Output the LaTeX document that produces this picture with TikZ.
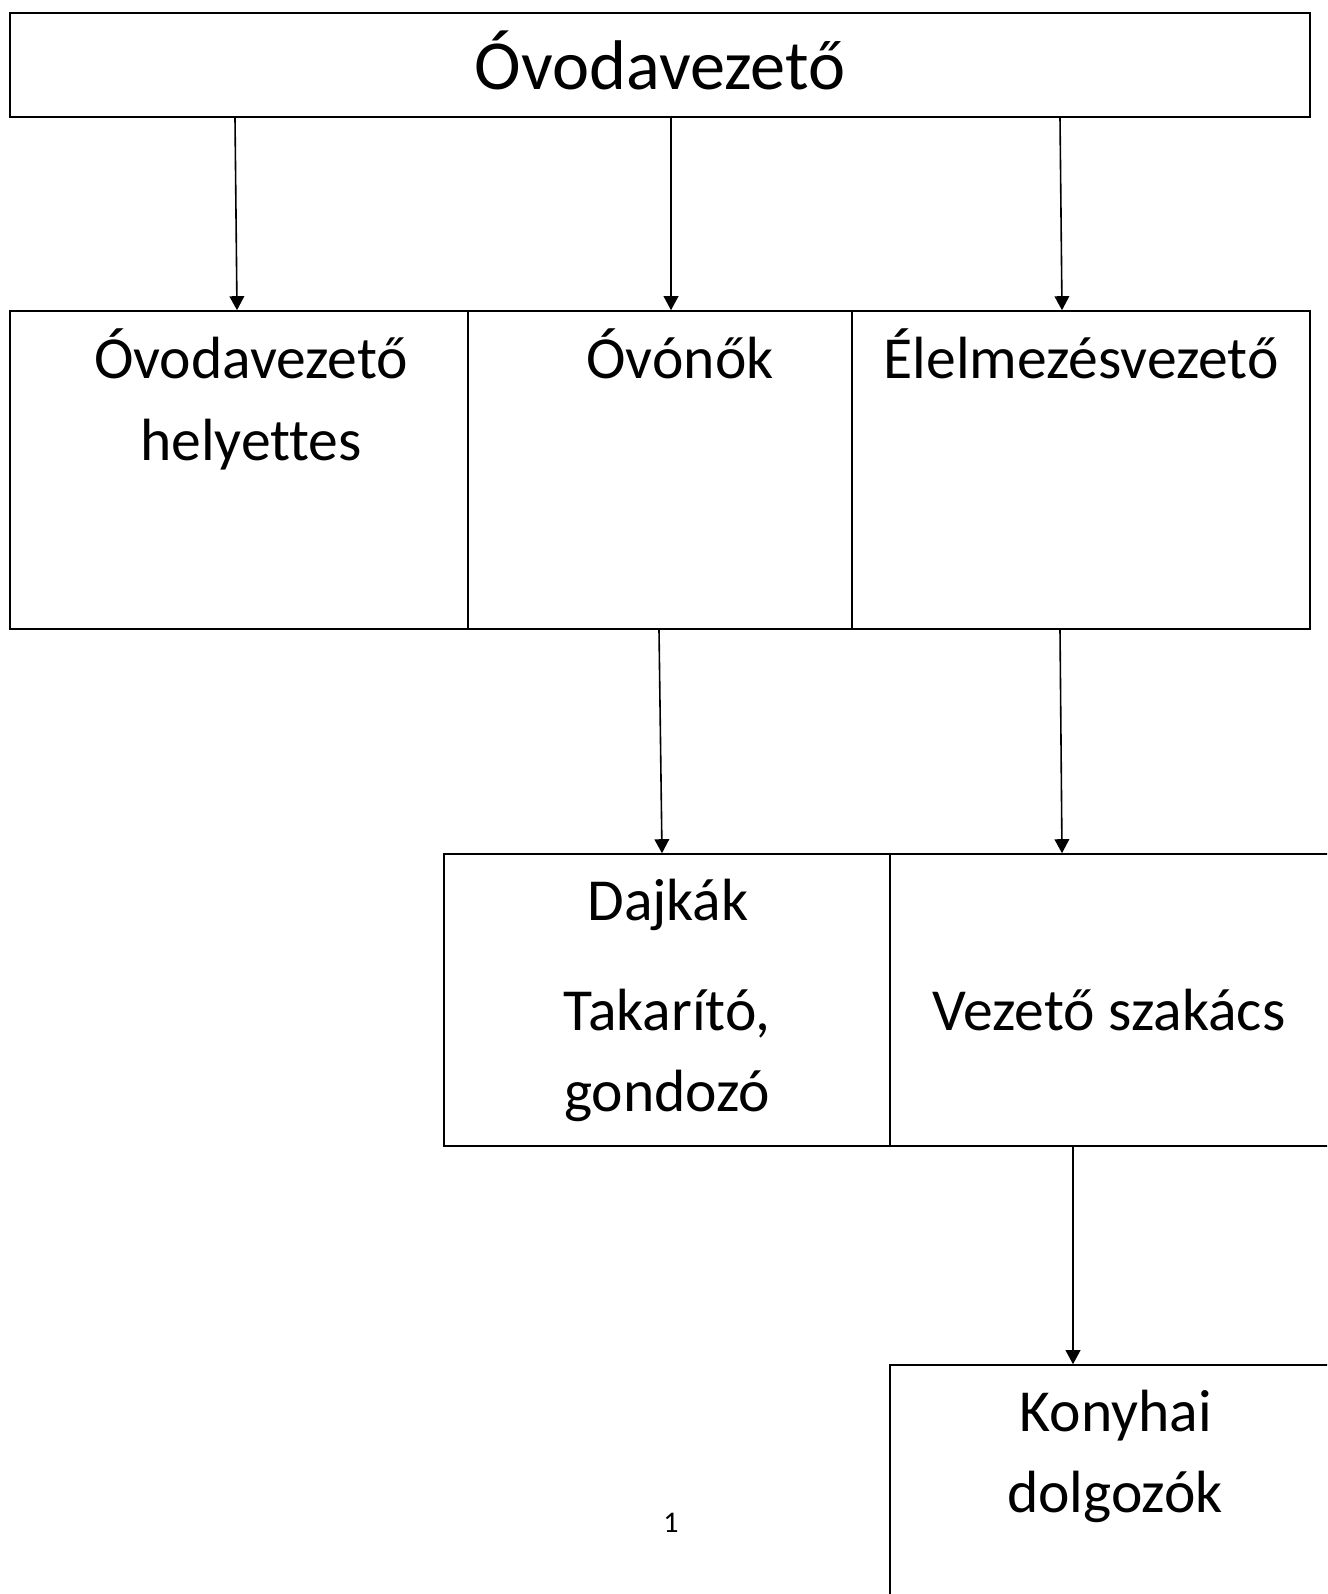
\documentclass[tikz,border=0pt]{standalone}
\usepackage{fontspec}
\setmainfont{Carlito}[Ligatures=NoCommon]
\usetikzlibrary{arrows.meta,fit}
\begin{document}
\begin{tikzpicture}[x=0.75pt,y=-0.75pt,
  box/.style={draw=black,line width=1.2pt,inner sep=0pt,rectangle},
  topbox/.style={box,line width=1.5pt},
  txt/.style={anchor=base,inner sep=0pt,font=\fontsize{44.7}{61.5}\selectfont},
  bigtxt/.style={anchor=base,inner sep=0pt,font=\fontsize{52.7}{60}\selectfont},
  arr/.style={line width=1.2pt,-{Triangle[length=10.5pt,width=11pt]}}]
\clip (0,0) rectangle (1327,1594);
\fill[white] (0,0) rectangle (1327,1594);
% boxes
\node[topbox,fit={(10,13) (1310,117)}] (top) {};
\node[box,fit={(10,311) (468,629)}] (helyb) {};
\node[box,fit={(468,311) (852,629)}] (ovob) {};
\node[box,fit={(852,311) (1310,629)}] (elelb) {};
\node[box,fit={(444,854) (890,1146)}] (dajb) {};
\node[box,fit={(890,854) (1340,1146)}] (szakb) {};
\node[box,fit={(890,1365) (1340,1610)}] (konyb) {};
% texts
\node[bigtxt] (t0) at (660,90) {Óvodavezető};
\node[txt] (t1) at (251,378) {Óvodavezető};
\node[txt] (t1b) at (251,460) {helyettes};
\node[txt] (t2) at (680,378) {Óvónők};
\node[txt] (t3) at (1081,378) {Élelmezésvezető};
\node[txt] (t4) at (668,920) {Dajkák};
\node[txt] (t4b) at (667,1030) {Takarító,};
\node[txt] (t4c) at (667,1111) {gondozó};
\node[txt] (t5) at (1109,1030) {Vezető szakács};
\node[txt] (t6) at (1116,1431) {Konyhai};
\node[txt] (t6b) at (1115,1512) {dolgozók};
\node[anchor=base,inner sep=0pt,font=\fontsize{22.5}{27}\selectfont] (pg) at (671,1532) {1};
% arrows
\draw[arr] (top.south -| 235,0) -- (helyb.north -| 237,0);
\draw[arr] (top.south -| 671,0) -- (ovob.north -| 671,0);
\draw[arr] (top.south -| 1060,0) -- (elelb.north -| 1062,0);
\draw[arr] (ovob.south -| 659,0) -- (dajb.north -| 662,0);
\draw[arr] (elelb.south -| 1060,0) -- (szakb.north -| 1062,0);
\draw[arr] (szakb.south -| 1073,0) -- (konyb.north -| 1073,0);
\end{tikzpicture}
\end{document}
